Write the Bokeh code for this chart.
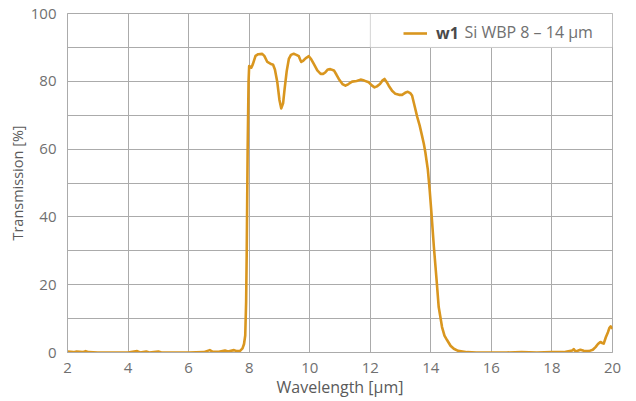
from bokeh.plotting import figure
from bokeh.models import (SingleIntervalTicker, BoxAnnotation, Legend, LegendItem,
                          Label, Range1d)
from bokeh.embed import file_html
from bokeh.resources import INLINE

# ---- data ----
wavelength = [2.0, 2.2, 2.3, 2.5, 2.6, 2.7, 3.0, 3.5, 4.0, 4.3, 4.4, 4.6, 4.7, 5.0, 5.1,
              5.5, 6.0, 6.5, 6.7, 6.8, 7.0, 7.2, 7.3, 7.5, 7.6, 7.7, 7.78, 7.83, 7.87,
              7.9, 7.92, 7.95, 7.98, 8.0, 8.07, 8.12, 8.21, 8.3, 8.43, 8.5, 8.6, 8.7,
              8.79, 8.85, 8.93, 9.0, 9.06, 9.12, 9.17, 9.24, 9.31, 9.38, 9.47, 9.56,
              9.64, 9.68, 9.72, 9.78, 9.83, 9.9, 9.97, 10.05, 10.13, 10.25, 10.36,
              10.45, 10.52, 10.6, 10.68, 10.8, 10.88, 10.96, 11.08, 11.18, 11.28, 11.4,
              11.55, 11.68, 11.8, 11.95, 12.05, 12.14, 12.22, 12.32, 12.4, 12.47, 12.54,
              12.61, 12.72, 12.83, 12.95, 13.05, 13.15, 13.24, 13.32, 13.38, 13.47,
              13.55, 13.63, 13.71, 13.77, 13.82, 13.86, 13.9, 13.96, 14.02, 14.1, 14.19,
              14.26, 14.37, 14.45, 14.54, 14.65, 14.76, 14.9, 15.2, 15.5, 16.0, 16.5,
              17.0, 17.5, 18.0, 18.39, 18.5, 18.67, 18.72, 18.78, 18.85, 18.94, 19.05,
              19.22, 19.35, 19.44, 19.52, 19.6, 19.66, 19.71, 19.78, 19.85, 19.9, 19.94,
              20.0]
transmission = [0.3, 0.1, 0.3, 0.1, 0.4, 0.1, 0.0, 0.0, 0.0, 0.4, 0.0, 0.3, 0.0, 0.3, 0.0,
                0.0, 0.0, 0.1, 0.7, 0.2, 0.2, 0.6, 0.3, 0.7, 0.4, 0.5, 1.2, 2.5, 5.0,
                15.0, 30.0, 60.0, 80.0, 84.5, 84.0, 85.0, 87.5, 88.0, 88.1, 87.5, 85.7, 85.2,
                84.9, 83.5, 79.7, 74.5, 72.0, 73.5, 77.7, 83.0, 86.6, 87.8, 88.1, 87.8,
                87.4, 86.5, 85.7, 86.0, 86.5, 87.0, 87.4, 86.5, 85.2, 83.2, 82.2,
                82.2, 82.7, 83.5, 83.6, 83.2, 82.0, 80.7, 79.2, 78.7, 79.2, 79.9,
                80.1, 80.5, 80.2, 79.7, 78.8, 78.2, 78.5, 79.2, 80.2, 80.7, 79.8,
                78.7, 77.2, 76.3, 76.0, 76.0, 76.6, 76.9, 76.5, 75.8, 72.5,
                69.5, 67.0, 63.9, 61.5, 59.0, 56.5, 54.0, 48.1, 41.2, 31.2, 21.4,
                13.4, 7.5, 5.0, 3.6, 2.0, 1.1, 0.5, 0.1, 0.0, 0.0, 0.0,
                0.1, 0.0, 0.1, 0.1, 0.3, 0.6, 1.0, 0.3, 0.5, 0.8, 0.5,
                0.4, 0.8, 1.6, 2.5, 3.1, 2.8, 2.6, 4.5, 6.0, 7.3, 7.7,
                7.0]
series_tag = "w1"
series_name = "Si WBP 8 – 14 µm"
x_title = "Wavelength [µm]"
y_title = "Transmission [%]"

FONT = "Open Sans"
TEXT = "#707070"
GRID = "#ababab"
LINE = "#d9961f"

p = figure(width=636, height=401,
           x_range=Range1d(2, 20), y_range=Range1d(0, 100),
           output_backend="svg", toolbar_location=None,
           min_border_left=67, min_border_right=24, min_border_top=13, min_border_bottom=49,
           background_fill_color="white", border_fill_color="white")

p.outline_line_color = GRID
p.outline_line_width = 1

r = p.line(wavelength, transmission, line_color=LINE, line_width=2.6, line_join="round")

# axes
p.xaxis.ticker = SingleIntervalTicker(interval=2, num_minor_ticks=0)
p.yaxis.ticker = SingleIntervalTicker(interval=20, num_minor_ticks=2)
for ax in (p.xaxis, p.yaxis):
    ax.axis_line_color = GRID
    ax.major_tick_line_color = None
    ax.minor_tick_line_color = None
    ax.major_label_text_font = FONT
    ax.major_label_text_font_size = "15px"
    ax.major_label_text_color = TEXT
    ax.axis_label_text_font = FONT
    ax.axis_label_text_font_style = "normal"
    ax.axis_label_text_color = "#5a5a5a"
p.xaxis.axis_label = x_title
p.yaxis.axis_label = y_title
p.xaxis.axis_label_text_font_size = "16px"
p.yaxis.axis_label_text_font_size = "14.5px"
p.xaxis.major_label_standoff = 4
p.xaxis.axis_label_standoff = 0
p.yaxis.major_label_standoff = 5
p.yaxis.axis_label_standoff = 1

p.xgrid.grid_line_color = GRID
p.ygrid.grid_line_color = GRID
p.ygrid.minor_grid_line_color = GRID

# legend box (covers the grid cell block at top right)
box = BoxAnnotation(left=12, right=20, bottom=90, top=100,
                    fill_color="white", fill_alpha=1.0,
                    line_color=GRID, line_width=1)
p.add_layout(box)

legend = Legend(items=[LegendItem(label=series_tag, renderers=[r])],
                location="top_right", margin=0, padding=9,
                glyph_width=24, glyph_height=20, label_height=20,
                label_standoff=9, label_width=167,
                background_fill_alpha=0, border_line_alpha=0,
                label_text_font=FONT, label_text_font_size="16px",
                label_text_font_style="bold", label_text_color="#4a4a4a")
p.add_layout(legend)

name_label = Label(x=15.11, y=94.5, text=series_name, text_baseline="middle",
                   text_font=FONT, text_font_size="16px", text_color=TEXT)
p.add_layout(name_label)

open("out.html", "w").write(file_html(p, INLINE))
